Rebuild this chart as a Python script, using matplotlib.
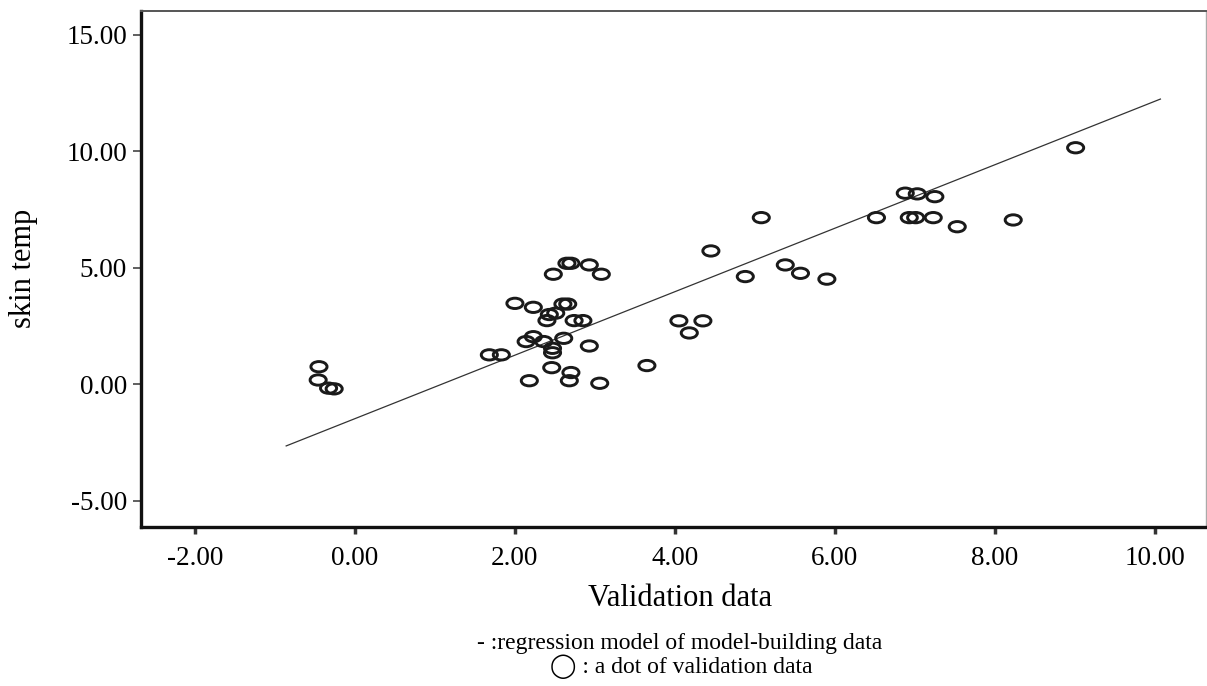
import numpy as np
import matplotlib
matplotlib.use("Agg")
import matplotlib.pyplot as plt
from matplotlib.path import Path

plt.rcParams['font.family'] = ['Liberation Serif', 'DejaVu Sans']

# Validation data points (x = validation data, y = skin temp)
val_x = [-0.45, -0.46, -0.33, -0.26, 1.68, 1.83, 2.00, 2.23, 2.48, 2.65, 2.70,
         2.93, 3.08, 2.60, 2.66, 2.43, 2.51, 2.40, 2.74, 2.85, 2.23, 2.14,
         2.36, 2.61, 2.93, 2.47, 2.47, 2.46, 2.70, 2.18, 2.68, 3.06, 3.65,
         4.05, 4.35, 4.18, 5.08, 4.45, 4.88, 5.38, 5.57, 5.90, 6.52, 6.88,
         7.03, 7.25, 6.93, 7.01, 7.23, 7.53, 8.23, 9.01]
skin_temp = [0.76, 0.19, -0.16, -0.19, 1.27, 1.27, 3.48, 3.31, 4.73, 5.20, 5.20,
             5.13, 4.73, 3.45, 3.45, 3.00, 3.06, 2.74, 2.74, 2.74, 2.05, 1.84,
             1.84, 1.98, 1.65, 1.55, 1.36, 0.72, 0.51, 0.16, 0.16, 0.05, 0.81,
             2.73, 2.73, 2.21, 7.16, 5.73, 4.63, 5.13, 4.77, 4.52, 7.16, 8.21,
             8.18, 8.06, 7.16, 7.16, 7.16, 6.77, 7.06, 10.16]

# Regression line of model-building data (endpoints)
reg_x = [-0.86, 10.07]
reg_y = [-2.64, 12.25]

x_ticks = [-2, 0, 2, 4, 6, 8, 10]
y_ticks = [-5, 0, 5, 10, 15]

W, H = 1207, 686
fig = plt.figure(figsize=(W / 100, H / 100), dpi=100)
left, right, top, bottom = 141, 1206, 11, 527
ax = fig.add_axes([left / W, 1 - bottom / H, (right - left) / W, (bottom - top) / H])

ax.set_xlim(-2.675, 10.64)
ax.set_ylim(-6.12, 16.03)

ax.plot(reg_x, reg_y, color='#333333', lw=0.9, zorder=2)

circ = Path.unit_circle()
ell = Path(circ.vertices * np.array([1.0, 0.64]), circ.codes)
ax.scatter(val_x, skin_temp, marker=ell, s=135, facecolors='none',
           edgecolors='#1a1a1a', linewidths=2.1, zorder=3)

ax.set_xticks(x_ticks)
ax.set_yticks(y_ticks)
ax.set_xticklabels([f"{v:.2f}" for v in x_ticks])
ax.set_yticklabels([f"{v:.2f}" for v in y_ticks])
ax.tick_params(axis='y', direction='out', length=6, width=1.2, color='#444444',
               labelsize=19.5, pad=4)
ax.tick_params(axis='x', direction='out', length=5, width=2.5, color='#333333',
               labelsize=19.5, pad=9)

for side in ['left', 'bottom']:
    ax.spines[side].set_linewidth(2.4)
    ax.spines[side].set_color('#111111')
ax.spines['top'].set_linewidth(1.4)
ax.spines['top'].set_color('#555555')
ax.spines['right'].set_linewidth(1.0)
ax.spines['right'].set_color('#aaaaaa')

fig.text(24 / W, 1 - 268 / H, 'skin temp', fontsize=22, rotation=90,
         ha='center', va='center')
fig.text(680 / W, 1 - 599 / H, 'Validation data', fontsize=22,
         ha='center', va='center')
fig.text(680 / W, 1 - 643 / H, '- :regression model of model-building data',
         fontsize=17, ha='center', va='center')
fig.text(681 / W, 1 - 667 / H, '\u25EF : a dot of validation data',
         fontsize=17, ha='center', va='center')

fig.savefig('out.png', dpi=100)
